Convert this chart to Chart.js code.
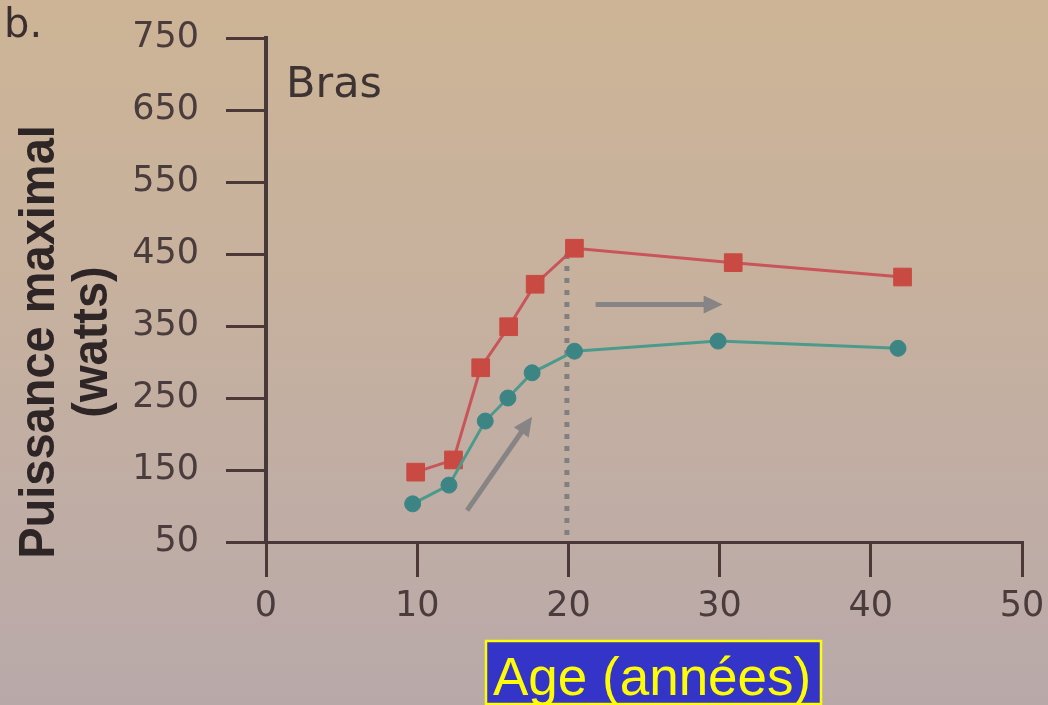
<!DOCTYPE html>
<html><head><meta charset="utf-8">
<script src="https://cdn.jsdelivr.net/npm/chart.js@4/dist/chart.umd.min.js"></script>
<style>
html,body{margin:0;padding:0;width:1048px;height:705px;overflow:hidden;
background:linear-gradient(to bottom,#cdb496 0%,#c8b29d 35%,#c0ada4 70%,#b8a9a9 100%);}
#wrap{position:relative;width:1048px;height:705px;}
</style></head><body>
<div id="wrap"><canvas id="c" width="1048" height="705"></canvas></div>
<script>
// ---- data ----
const redAges   = [9.9, 12.4, 14.2, 16.05, 17.8, 20.4, 30.9, 42.1];
const redPower  = [147, 164, 292, 349, 408, 458, 438, 418];
const tealAges  = [9.7, 12.1, 14.5, 16.0, 17.6, 20.4, 29.9, 41.8];
const tealPower = [103, 129, 218, 250, 285, 315, 329, 319];
const xTicks = [0, 10, 20, 30, 40, 50];
const yTicks = [50, 150, 250, 350, 450, 550, 650, 750];
const panelLabel = 'b.';
const subtitle = 'Bras';
const yTitle = ['Puissance maximal', '(watts)'];
const xTitle = 'Age (années)';
const refLine = [19.9, 450, 50];           // x, from y, to y
const arrowDiag = [13.3, 94, 17.6, 224];   // x0,y0,x1,y1
const arrowHoriz = [21.8, 380, 30.2, 380];

const tickColor = '#4d3838';
const labelColor = '#4a3c3c';

function drawArrow(ctx, x0, y0, x1, y1) {
  const ang = Math.atan2(y1 - y0, x1 - x0);
  const head = 19, hw = 9;
  const bx = x1 - head * Math.cos(ang), by = y1 - head * Math.sin(ang);
  ctx.strokeStyle = '#868484';
  ctx.fillStyle = '#868484';
  ctx.lineWidth = 5;
  ctx.lineCap = 'butt';
  ctx.beginPath(); ctx.moveTo(x0, y0); ctx.lineTo(bx + Math.cos(ang), by + Math.sin(ang)); ctx.stroke();
  ctx.beginPath();
  ctx.moveTo(x1, y1);
  ctx.lineTo(bx - hw * Math.sin(ang), by + hw * Math.cos(ang));
  ctx.lineTo(bx + hw * Math.sin(ang), by - hw * Math.cos(ang));
  ctx.closePath(); ctx.fill();
}

const decor = {
  id: 'decor',
  beforeDatasetsDraw(chart) {
    const {ctx, scales: {x, y}} = chart;
    ctx.save();
    ctx.strokeStyle = '#808080';
    ctx.lineWidth = 5;
    ctx.setLineDash([5, 7]);
    const px = x.getPixelForValue(refLine[0]);
    ctx.beginPath();
    ctx.moveTo(px, y.getPixelForValue(refLine[1]));
    ctx.lineTo(px, y.getPixelForValue(refLine[2]));
    ctx.stroke();
    ctx.setLineDash([]);
    drawArrow(ctx, x.getPixelForValue(arrowDiag[0]), y.getPixelForValue(arrowDiag[1]),
                   x.getPixelForValue(arrowDiag[2]), y.getPixelForValue(arrowDiag[3]));
    drawArrow(ctx, x.getPixelForValue(arrowHoriz[0]), y.getPixelForValue(arrowHoriz[1]),
                   x.getPixelForValue(arrowHoriz[2]), y.getPixelForValue(arrowHoriz[3]));
    ctx.restore();
  },
  afterDraw(chart) {
    const ctx = chart.ctx;
    ctx.save();
    // panel label
    ctx.fillStyle = '#3a2e2e';
    ctx.font = '40px "DejaVu Sans"';
    ctx.textAlign = 'left'; ctx.textBaseline = 'alphabetic';
    ctx.fillText(panelLabel, 4, 37);
    // subtitle
    ctx.font = '43px "DejaVu Sans"';
    ctx.fillStyle = '#3e3333';
    ctx.fillText(subtitle, 286, 97);
    // y title (two rotated lines)
    ctx.fillStyle = '#2e2626';
    ctx.font = 'bold 47px "Liberation Sans", Arial, sans-serif';
    ctx.textAlign = 'center';
    ctx.save(); ctx.translate(54, 342); ctx.rotate(-Math.PI / 2); ctx.scale(1, 1.08);
    ctx.fillText(yTitle[0], 0, 0); ctx.restore();
    ctx.save(); ctx.translate(107, 342); ctx.rotate(-Math.PI / 2); ctx.scale(1, 1.08);
    ctx.fillText(yTitle[1], 0, 0); ctx.restore();
    // x title box
    ctx.fillStyle = '#3434c8';
    ctx.fillRect(485, 640, 337, 66);
    ctx.strokeStyle = '#ffff00';
    ctx.lineWidth = 2.5;
    ctx.strokeRect(486, 641, 335, 63);
    ctx.fillStyle = '#ffff00';
    ctx.font = '53px "Liberation Sans", Arial, sans-serif';
    ctx.textAlign = 'left';
    ctx.fillText(xTitle, 493, 695);
    ctx.restore();
  }
};

new Chart(document.getElementById('c'), {
  type: 'line',
  data: {
    datasets: [
      {
        data: tealAges.map((a, i) => ({x: a, y: tealPower[i]})),
        borderColor: '#4c9a8c', borderWidth: 3,
        pointStyle: 'circle', pointRadius: 8,
        pointBackgroundColor: '#3d8585', pointBorderColor: '#3d8585', pointBorderWidth: 1,
        tension: 0
      },
      {
        data: redAges.map((a, i) => ({x: a, y: redPower[i]})),
        borderColor: '#c9555a', borderWidth: 3,
        pointStyle: 'rect', pointRadius: 12.5,
        pointBackgroundColor: '#c94a42', pointBorderColor: '#c94a42', pointBorderWidth: 1,
        tension: 0
      }
    ]
  },
  options: {
    responsive: false,
    animation: false,
    devicePixelRatio: 1,
    layout: {padding: {top: 38, right: 26, left: 0, bottom: 0}},
    plugins: {legend: {display: false}, tooltip: {enabled: false}, title: {display: false}},
    scales: {
      x: {
        type: 'linear', min: 0, max: 50,
        afterBuildTicks: s => { s.ticks = xTicks.map(v => ({value: v})); },
        afterFit: s => { s.height = 163; s.paddingLeft = 0; s.paddingRight = 0; },
        grid: {drawOnChartArea: false, drawTicks: true, tickLength: 35, color: tickColor, lineWidth: 3},
        border: {display: true, color: '#4a3838', width: 3},
        ticks: {color: labelColor, font: {family: 'DejaVu Sans', size: 35}, padding: 9, maxRotation: 0, autoSkip: false}
      },
      y: {
        type: 'linear', min: 50, max: 750,
        afterBuildTicks: s => { s.ticks = yTicks.map(v => ({value: v})); },
        afterFit: s => { s.width = 266; s.paddingTop = 0; s.paddingBottom = 0; },
        grid: {drawOnChartArea: false, drawTicks: true, tickLength: 40, color: tickColor, lineWidth: 3},
        border: {display: true, color: '#47393a', width: 4},
        ticks: {color: labelColor, font: {family: 'DejaVu Sans', size: 35}, padding: 27, autoSkip: false}
      }
    }
  },
  plugins: [decor]
});
</script>
</body></html>
